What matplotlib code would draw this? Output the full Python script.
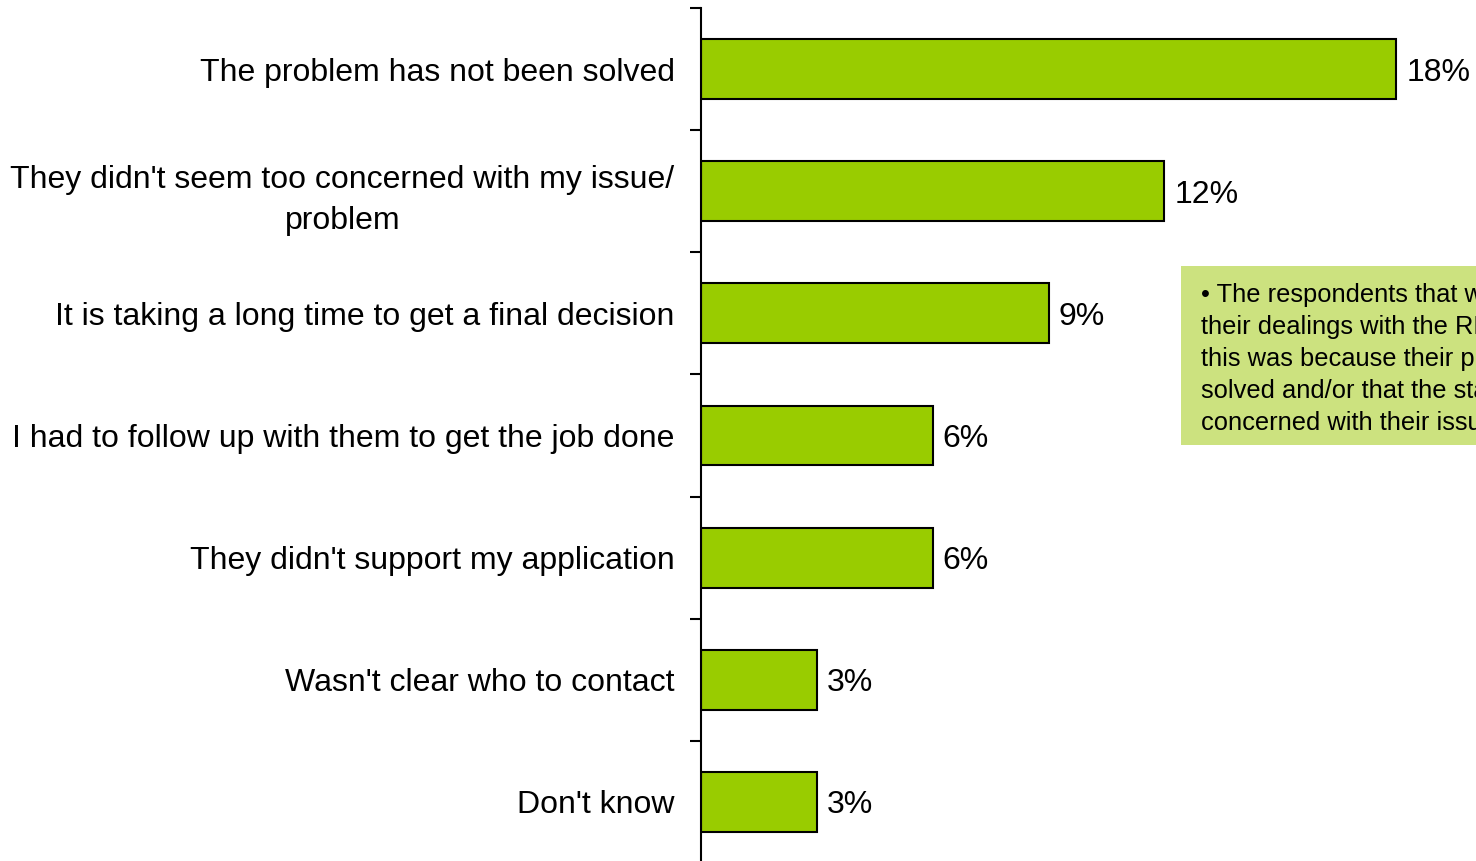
import matplotlib.pyplot as plt
from matplotlib.patches import Rectangle

plt.rcParams["font.family"] = ["Liberation Sans", "DejaVu Sans"]

categories = [
    "The problem has not been solved",
    "They didn't seem too concerned with my issue/\nproblem",
    "It is taking a long time to get a final decision",
    "I had to follow up with them to get the job done",
    "They didn't support my application",
    "Wasn't clear who to contact",
    "Don't know",
]
values = [18, 12, 9, 6, 6, 3, 3]
value_labels = ["18%", "12%", "9%", "6%", "6%", "3%", "3%"]

note_text = ("\u2022 The respondents that were dissatisfied with\n"
             "their dealings with the RDA stated that\n"
             "this was because their problem had not been\n"
             "solved and/or that the staff didn't seem too\n"
             "concerned with their issue/problem.")

W, H = 1476, 861
fig = plt.figure(figsize=(W / 100, H / 100), dpi=100)
ax = fig.add_axes([701 / W, -2 / H, 772.4 / W, 855 / H])

y = list(range(len(categories)))
ax.barh(y, values, height=0.49, color="#99CC00", edgecolor="black", linewidth=1.5)

for yi, v, lab in zip(y, values, value_labels):
    ax.text(v + 0.26, yi, lab, va="center_baseline", ha="left", fontsize=23)

ax.set_xlim(0, 20)
ax.set_ylim(6.5, -0.5)

ax.set_yticks(y)
ax.set_yticklabels(categories, fontsize=23)
for t in ax.get_yticklabels():
    t.set_multialignment("center")
    t.set_linespacing(1.5)
ax.tick_params(axis="y", which="major", length=0, pad=19)
ax.set_yticks([i - 0.5 for i in range(len(categories) + 1)], minor=True)
ax.tick_params(axis="y", which="minor", length=8, width=1.5)
ax.set_xticks([])

for s in ["top", "right", "bottom"]:
    ax.spines[s].set_visible(False)
ax.spines["left"].set_linewidth(1.5)

# note box on the right, clipped by the figure edge as in the source slide
fig.patches.append(Rectangle((1181 / W, 1 - 445 / H), 320 / W, 179 / H,
                             transform=fig.transFigure, facecolor="#CCE27F",
                             edgecolor="none", zorder=0))
fig.text(1201 / W, 1 - 283 / H, note_text, ha="left", va="top",
         fontsize=18.4, linespacing=1.42)

fig.savefig("out.png", dpi=100)
